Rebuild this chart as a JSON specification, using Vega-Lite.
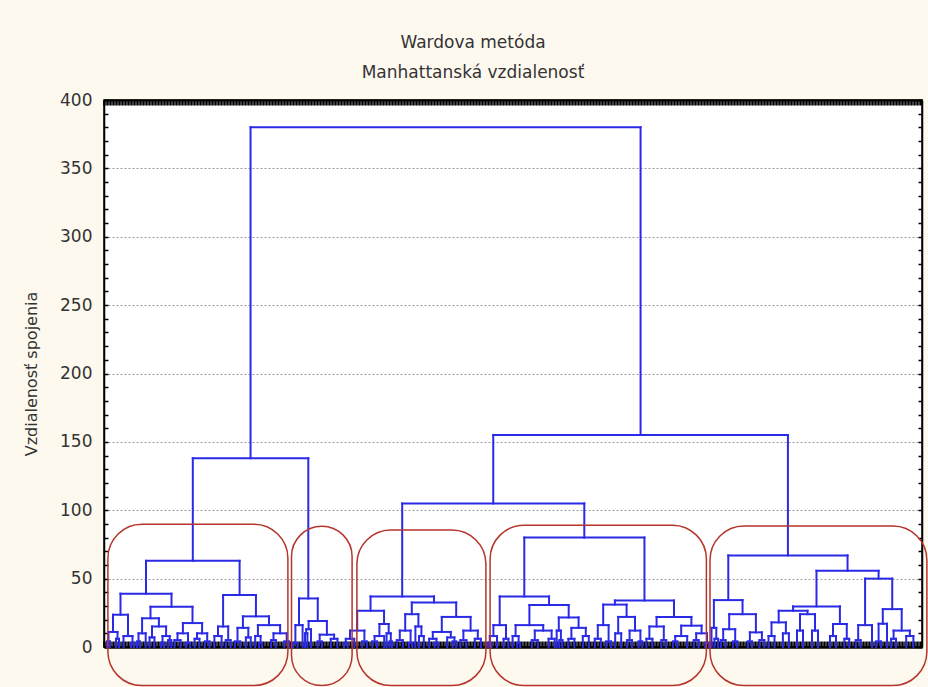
{
  "$schema": "https://vega.github.io/schema/vega-lite/v6.json",
  "width": 818,
  "height": 547,
  "autosize": {"type": "none"},
  "padding": {"left": 104, "top": 100, "right": 6, "bottom": 40},
  "background": "#fdf9ef",
  "config": {
    "view": {"fill": "white", "stroke": "black", "strokeWidth": 1.5},
    "font": "DejaVu Sans"
  },
  "title": {
    "text": ["Wardova metóda", "Manhattanská vzdialenosť"],
    "font": "DejaVu Sans",
    "fontSize": 17,
    "fontWeight": "normal",
    "color": "#333333",
    "lineHeight": 30,
    "anchor": "middle",
    "dx": -40,
    "offset": 9
  },
  "datasets": {
    "tree": [
      {"a": 48.85, "b": 178.86, "h": 380, "ha": 138, "hb": 155},
      {"a": 29.6, "b": 68.1, "h": 138, "ha": 63, "hb": 35.5},
      {"a": 14, "b": 45.2, "h": 63, "ha": 39, "hb": 38},
      {"a": 5.5, "b": 22.5, "h": 39, "ha": 23.6, "hb": 29.4},
      {"a": 3, "b": 8, "h": 23.6, "ha": 11, "hb": 8},
      {"a": 1.5, "b": 4.5, "h": 11, "ha": 4, "hb": 6},
      {"a": 1, "b": 2, "h": 4, "ha": 0, "hb": 0},
      {"a": 4, "b": 5, "h": 6, "ha": 0, "hb": 0},
      {"a": 6.5, "b": 9.5, "h": 8, "ha": 0, "hb": 3},
      {"a": 9, "b": 10, "h": 3, "ha": 0, "hb": 0},
      {"a": 15.5, "b": 29.5, "h": 29.4, "ha": 21, "hb": 17.5},
      {"a": 12.7, "b": 18.3, "h": 21, "ha": 10, "hb": 15},
      {"a": 11.5, "b": 13.9, "h": 10, "ha": 4, "hb": 0},
      {"a": 11, "b": 12, "h": 4, "ha": 0, "hb": 0},
      {"a": 16, "b": 20.7, "h": 15, "ha": 7, "hb": 8},
      {"a": 15.2, "b": 16.8, "h": 7, "ha": 0, "hb": 0},
      {"a": 19.5, "b": 21.9, "h": 8, "ha": 3, "hb": 5},
      {"a": 19, "b": 20, "h": 3, "ha": 0, "hb": 0},
      {"a": 21.4, "b": 22.4, "h": 5, "ha": 0, "hb": 0},
      {"a": 26.3, "b": 32.7, "h": 17.5, "ha": 10, "hb": 10},
      {"a": 24.5, "b": 28, "h": 10, "ha": 5, "hb": 3},
      {"a": 23.5, "b": 25.5, "h": 5, "ha": 0, "hb": 0},
      {"a": 27.3, "b": 28.7, "h": 3, "ha": 0, "hb": 0},
      {"a": 31, "b": 34.4, "h": 10, "ha": 6, "hb": 4},
      {"a": 30.2, "b": 31.8, "h": 6, "ha": 0, "hb": 0},
      {"a": 33.6, "b": 35.2, "h": 4, "ha": 0, "hb": 0},
      {"a": 39.7, "b": 50.65, "h": 38, "ha": 15, "hb": 22.4},
      {"a": 38, "b": 41.4, "h": 15, "ha": 8, "hb": 5},
      {"a": 36.8, "b": 39.2, "h": 8, "ha": 0, "hb": 0},
      {"a": 40.6, "b": 42.2, "h": 5, "ha": 0, "hb": 0},
      {"a": 46.3, "b": 55, "h": 22.4, "ha": 14, "hb": 16},
      {"a": 44.5, "b": 48.1, "h": 14, "ha": 4, "hb": 7},
      {"a": 43.6, "b": 45.4, "h": 4, "ha": 0, "hb": 0},
      {"a": 47.3, "b": 48.9, "h": 7, "ha": 0, "hb": 0},
      {"a": 51.3, "b": 58.7, "h": 16, "ha": 8, "hb": 10},
      {"a": 50.4, "b": 52.2, "h": 8, "ha": 0, "hb": 3},
      {"a": 51.7, "b": 52.7, "h": 3, "ha": 0, "hb": 0},
      {"a": 56.5, "b": 60.9, "h": 10, "ha": 5, "hb": 4},
      {"a": 55.7, "b": 57.3, "h": 5, "ha": 0, "hb": 0},
      {"a": 60.1, "b": 61.7, "h": 4, "ha": 0, "hb": 0},
      {"a": 65, "b": 71.25, "h": 35.5, "ha": 16, "hb": 19},
      {"a": 63.8, "b": 66.2, "h": 16, "ha": 3, "hb": 0},
      {"a": 63.1, "b": 64.5, "h": 3, "ha": 0, "hb": 0},
      {"a": 68.2, "b": 74.3, "h": 19, "ha": 13, "hb": 9},
      {"a": 67.4, "b": 69, "h": 13, "ha": 10, "hb": 0},
      {"a": 67, "b": 67.8, "h": 10, "ha": 0, "hb": 0},
      {"a": 71.9, "b": 76.7, "h": 9, "ha": 4, "hb": 6},
      {"a": 71.2, "b": 72.6, "h": 4, "ha": 0, "hb": 0},
      {"a": 75.6, "b": 77.8, "h": 6, "ha": 0, "hb": 0},
      {"a": 129.75, "b": 227.98, "h": 155, "ha": 105, "hb": 67},
      {"a": 99.4, "b": 160.1, "h": 105, "ha": 37, "hb": 80},
      {"a": 88.85, "b": 110, "h": 37, "ha": 26.5, "hb": 32.6},
      {"a": 84.4, "b": 93.35, "h": 26.5, "ha": 12, "hb": 16.8},
      {"a": 82, "b": 86.8, "h": 12, "ha": 6, "hb": 4},
      {"a": 80.6, "b": 83.4, "h": 6, "ha": 3, "hb": 0},
      {"a": 80, "b": 81.2, "h": 3, "ha": 0, "hb": 0},
      {"a": 86, "b": 87.6, "h": 4, "ha": 0, "hb": 0},
      {"a": 91.8, "b": 94.9, "h": 16.8, "ha": 8, "hb": 10},
      {"a": 90.2, "b": 93.4, "h": 8, "ha": 4, "hb": 0},
      {"a": 89.4, "b": 91, "h": 4, "ha": 0, "hb": 0},
      {"a": 94.2, "b": 95.6, "h": 10, "ha": 0, "hb": 4},
      {"a": 95.2, "b": 96, "h": 4, "ha": 0, "hb": 0},
      {"a": 102.6, "b": 117.4, "h": 32.6, "ha": 24, "hb": 22},
      {"a": 100.4, "b": 104.8, "h": 24, "ha": 12, "hb": 15},
      {"a": 98.6, "b": 102.2, "h": 12, "ha": 5, "hb": 3},
      {"a": 97.6, "b": 99.6, "h": 5, "ha": 0, "hb": 0},
      {"a": 101.6, "b": 102.8, "h": 3, "ha": 0, "hb": 0},
      {"a": 103.8, "b": 105.8, "h": 15, "ha": 0, "hb": 8},
      {"a": 105, "b": 106.6, "h": 8, "ha": 0, "hb": 0},
      {"a": 112.6, "b": 122.2, "h": 22, "ha": 11, "hb": 12},
      {"a": 109.6, "b": 115.6, "h": 11, "ha": 6, "hb": 7},
      {"a": 108.4, "b": 110.8, "h": 6, "ha": 0, "hb": 3},
      {"a": 110.2, "b": 111.4, "h": 3, "ha": 0, "hb": 0},
      {"a": 114.4, "b": 116.8, "h": 7, "ha": 0, "hb": 4},
      {"a": 116.2, "b": 117.4, "h": 4, "ha": 0, "hb": 0},
      {"a": 119.8, "b": 124.6, "h": 12, "ha": 5, "hb": 6},
      {"a": 118.8, "b": 120.8, "h": 5, "ha": 0, "hb": 0},
      {"a": 123.6, "b": 125.6, "h": 6, "ha": 0, "hb": 0},
      {"a": 140.1, "b": 180.15, "h": 80, "ha": 37, "hb": 34},
      {"a": 131.9, "b": 148.35, "h": 37, "ha": 16, "hb": 30.7},
      {"a": 129.8, "b": 134, "h": 16, "ha": 8, "hb": 6},
      {"a": 128.6, "b": 131, "h": 8, "ha": 3, "hb": 0},
      {"a": 128, "b": 129.2, "h": 3, "ha": 0, "hb": 0},
      {"a": 133.2, "b": 134.8, "h": 6, "ha": 0, "hb": 0},
      {"a": 141.8, "b": 154.9, "h": 30.7, "ha": 16, "hb": 21.6},
      {"a": 137.2, "b": 146.4, "h": 16, "ha": 8, "hb": 12},
      {"a": 136.2, "b": 138.2, "h": 8, "ha": 0, "hb": 3},
      {"a": 137.7, "b": 138.7, "h": 3, "ha": 0, "hb": 0},
      {"a": 143.6, "b": 149.2, "h": 12, "ha": 5, "hb": 6},
      {"a": 142.6, "b": 144.6, "h": 5, "ha": 0, "hb": 0},
      {"a": 148.2, "b": 150.2, "h": 6, "ha": 0, "hb": 0},
      {"a": 151.6, "b": 158.2, "h": 21.6, "ha": 12, "hb": 14},
      {"a": 150.9, "b": 152.3, "h": 12, "ha": 0, "hb": 5},
      {"a": 151.8, "b": 152.8, "h": 5, "ha": 0, "hb": 0},
      {"a": 155.8, "b": 160.6, "h": 14, "ha": 6, "hb": 8},
      {"a": 154.8, "b": 156.8, "h": 6, "ha": 0, "hb": 0},
      {"a": 159.6, "b": 161.6, "h": 8, "ha": 0, "hb": 0},
      {"a": 170.3, "b": 190, "h": 34, "ha": 31, "hb": 22},
      {"a": 166.4, "b": 174.2, "h": 31, "ha": 16, "hb": 22},
      {"a": 164.6, "b": 168.2, "h": 16, "ha": 6, "hb": 4},
      {"a": 163.6, "b": 165.6, "h": 6, "ha": 0, "hb": 0},
      {"a": 167.4, "b": 169, "h": 4, "ha": 0, "hb": 0},
      {"a": 171.4, "b": 177, "h": 22, "ha": 10, "hb": 12},
      {"a": 170.4, "b": 172.4, "h": 10, "ha": 0, "hb": 0},
      {"a": 175.2, "b": 178.8, "h": 12, "ha": 5, "hb": 4},
      {"a": 174.4, "b": 176, "h": 5, "ha": 0, "hb": 0},
      {"a": 178.2, "b": 179.4, "h": 4, "ha": 0, "hb": 0},
      {"a": 184.2, "b": 195.8, "h": 22, "ha": 15, "hb": 15.6},
      {"a": 181.8, "b": 186.6, "h": 15, "ha": 6, "hb": 5},
      {"a": 180.8, "b": 182.8, "h": 6, "ha": 0, "hb": 0},
      {"a": 185.8, "b": 187.4, "h": 5, "ha": 0, "hb": 0},
      {"a": 192.4, "b": 199.2, "h": 15.6, "ha": 8, "hb": 10},
      {"a": 190.4, "b": 194.4, "h": 8, "ha": 4, "hb": 0},
      {"a": 189.7, "b": 191.1, "h": 4, "ha": 0, "hb": 0},
      {"a": 197.4, "b": 201, "h": 10, "ha": 5, "hb": 3},
      {"a": 196.6, "b": 198.2, "h": 5, "ha": 0, "hb": 0},
      {"a": 200.4, "b": 201.6, "h": 3, "ha": 0, "hb": 0},
      {"a": 208.1, "b": 247.85, "h": 67, "ha": 34.3, "hb": 55.7},
      {"a": 203.3, "b": 212.85, "h": 34.3, "ha": 14, "hb": 24},
      {"a": 202.5, "b": 204.1, "h": 14, "ha": 0, "hb": 6},
      {"a": 203.5, "b": 204.7, "h": 6, "ha": 0, "hb": 0},
      {"a": 208.4, "b": 217.3, "h": 24, "ha": 13, "hb": 10.7},
      {"a": 206.4, "b": 210.4, "h": 13, "ha": 5, "hb": 4},
      {"a": 205.6, "b": 207.2, "h": 5, "ha": 0, "hb": 0},
      {"a": 209.7, "b": 211.1, "h": 4, "ha": 0, "hb": 0},
      {"a": 215.3, "b": 219.3, "h": 10.7, "ha": 4, "hb": 5},
      {"a": 214.6, "b": 216, "h": 4, "ha": 0, "hb": 0},
      {"a": 218.5, "b": 220.1, "h": 5, "ha": 0, "hb": 0},
      {"a": 237.5, "b": 258.2, "h": 55.7, "ha": 29.7, "hb": 50},
      {"a": 229.7, "b": 245.3, "h": 29.7, "ha": 26.5, "hb": 16.8},
      {"a": 224.9, "b": 234.5, "h": 26.5, "ha": 18, "hb": 24},
      {"a": 222.5, "b": 227.3, "h": 18, "ha": 8, "hb": 10},
      {"a": 221.5, "b": 223.5, "h": 8, "ha": 0, "hb": 0},
      {"a": 226.3, "b": 228.3, "h": 10, "ha": 0, "hb": 0},
      {"a": 232, "b": 237, "h": 24, "ha": 12, "hb": 12},
      {"a": 231, "b": 233, "h": 12, "ha": 0, "hb": 0},
      {"a": 236, "b": 238, "h": 12, "ha": 0, "hb": 0},
      {"a": 243, "b": 247.6, "h": 16.8, "ha": 8, "hb": 6},
      {"a": 242, "b": 244, "h": 8, "ha": 0, "hb": 0},
      {"a": 246.8, "b": 248.4, "h": 6, "ha": 0, "hb": 0},
      {"a": 253.7, "b": 262.75, "h": 50, "ha": 16, "hb": 27.7},
      {"a": 251.4, "b": 256, "h": 16, "ha": 5, "hb": 0},
      {"a": 250.6, "b": 252.2, "h": 5, "ha": 0, "hb": 0},
      {"a": 259.6, "b": 265.9, "h": 27.7, "ha": 17, "hb": 12},
      {"a": 258.2, "b": 261, "h": 17, "ha": 4, "hb": 0},
      {"a": 257.4, "b": 259, "h": 4, "ha": 0, "hb": 0},
      {"a": 263.2, "b": 268.6, "h": 12, "ha": 6, "hb": 8},
      {"a": 262.4, "b": 264, "h": 6, "ha": 0, "hb": 0},
      {"a": 267.4, "b": 269.8, "h": 8, "ha": 0, "hb": 0}
    ],
    "boxes": [
      {"x1": 1.3, "x2": 61.3, "y1": -28.2, "y2": 89.8},
      {"x1": 62.5, "x2": 82.7, "y1": -28.2, "y2": 88.3},
      {"x1": 84.3, "x2": 127.3, "y1": -28.2, "y2": 85.5},
      {"x1": 128.7, "x2": 200.8, "y1": -28.2, "y2": 89.1},
      {"x1": 202, "x2": 274.3, "y1": -28.2, "y2": 88.4}
    ]
  },
  "layer": [
    {
      "data": {"name": "tree"},
      "mark": {"type": "rule", "color": "#2a2ae6", "strokeWidth": 2, "strokeCap": "square"},
      "encoding": {
        "x": {
          "field": "a", "type": "quantitative",
          "scale": {"domain": [0, 272.67], "nice": false, "zero": false},
          "axis": {
            "orient": "bottom", "title": null, "labels": false, "grid": false,
            "tickCount": 272, "tickSize": -6, "tickWidth": 2.5, "tickColor": "black",
            "domainColor": "black", "domainWidth": 2.5
          }
        },
        "x2": {"field": "b"},
        "y": {
          "field": "h", "type": "quantitative",
          "scale": {"domain": [0, 400], "nice": false, "zero": true},
          "axis": {
            "orient": "left",
            "values": [0,10,20,30,40,50,60,70,80,90,100,110,120,130,140,150,160,170,180,190,200,210,220,230,240,250,260,270,280,290,300,310,320,330,340,350,360,370,380,390,400],
            "labelExpr": "datum.value % 50 === 0 ? datum.label : ''",
            "labelFont": "DejaVu Sans", "labelFontSize": 17, "labelColor": "#333333",
            "labelPadding": 16,
            "tickSize": -4, "tickWidth": 1.5, "tickColor": "black",
            "domainColor": "black", "domainWidth": 1.5,
            "grid": true, "gridColor": "#999999", "gridDash": [2, 2], "gridWidth": 1,
            "gridOpacity": {"condition": {"test": "datum.value % 50 === 0 && datum.value > 0 && datum.value < 400", "value": 1}, "value": 0},
            "title": "Vzdialenosť spojenia",
            "titleFont": "DejaVu Sans", "titleFontSize": 16, "titleFontWeight": "normal",
            "titleColor": "#333333", "titlePadding": 20
          }
        }
      }
    },
    {
      "data": {"name": "tree"},
      "mark": {"type": "rule", "color": "#2a2ae6", "strokeWidth": 2, "strokeCap": "square"},
      "encoding": {
        "x": {
          "field": "a", "type": "quantitative",
          "axis": {
            "orient": "top", "title": null, "labels": false, "grid": false,
            "tickCount": 272, "tickSize": -5, "tickWidth": 2.5, "tickColor": "black",
            "domainColor": "black", "domainWidth": 2
          }
        },
        "y": {
          "field": "ha", "type": "quantitative",
          "axis": {
            "orient": "right", "title": null, "labels": false, "grid": false,
            "values": [0,10,20,30,40,50,60,70,80,90,100,110,120,130,140,150,160,170,180,190,200,210,220,230,240,250,260,270,280,290,300,310,320,330,340,350,360,370,380,390,400],
            "tickSize": -4, "tickWidth": 1.5, "tickColor": "black",
            "domainColor": "black", "domainWidth": 1.5
          }
        },
        "y2": {"field": "h"}
      }
    },
    {
      "data": {"name": "tree"},
      "mark": {"type": "rule", "color": "#2a2ae6", "strokeWidth": 2, "strokeCap": "square"},
      "encoding": {
        "x": {"field": "b", "type": "quantitative", "axis": null},
        "y": {"field": "hb", "type": "quantitative", "axis": null},
        "y2": {"field": "h"}
      }
    },
    {
      "data": {"name": "boxes"},
      "mark": {"type": "rect", "filled": false, "stroke": "#b5352c", "strokeWidth": 1.5, "cornerRadius": 34},
      "encoding": {
        "x": {"field": "x1", "type": "quantitative", "axis": null},
        "x2": {"field": "x2"},
        "y": {"field": "y1", "type": "quantitative", "axis": null},
        "y2": {"field": "y2"}
      }
    }
  ],
  "resolve": {"axis": {"x": "independent", "y": "independent"}}
}
